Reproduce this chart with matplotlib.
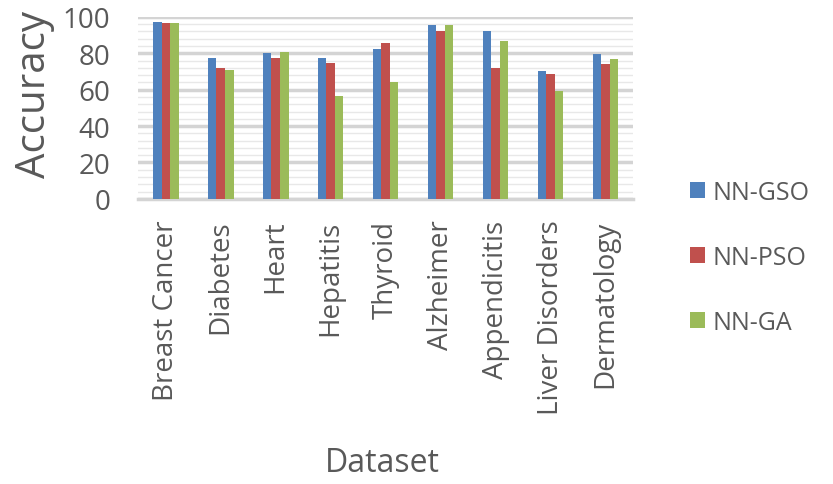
import matplotlib
matplotlib.use("Agg")
import matplotlib.pyplot as plt
import numpy as np

categories = ["Breast Cancer", "Diabetes", "Heart", "Hepatitis", "Thyroid",
              "Alzheimer", "Appendicitis", "Liver Disorders", "Dermatology"]
nn_gso = [97.0, 77.3, 80.3, 77.3, 82.4, 95.4, 92.2, 70.4, 79.9]
nn_pso = [96.4, 72.2, 77.2, 74.6, 85.7, 92.5, 72.0, 68.9, 74.1]
nn_ga = [96.4, 71.1, 80.8, 56.7, 64.2, 95.4, 86.7, 59.4, 77.0]
series_names = ["NN-GSO", "NN-PSO", "NN-GA"]
colors = ["#4f81bd", "#c0504d", "#9bbb59"]
yticks = [0, 20, 40, 60, 80, 100]

plt.rcParams['font.family'] = ['Open Sans', 'DejaVu Sans']
txt = "#595959"

fig = plt.figure(figsize=(8.33, 4.85), dpi=100)
ax = fig.add_axes([0.166, 0.588, 0.594, 0.375])

x = np.arange(len(categories))
w = 0.155
for i, (vals, name, c) in enumerate(zip([nn_gso, nn_pso, nn_ga], series_names, colors)):
    ax.bar(x + (i - 1) * w, vals, width=w, color=c, label=name, zorder=3)

ax.set_xlim(-0.5, len(categories) - 0.5)
ax.set_ylim(0, 100)
ax.set_yticks(yticks)
ax.set_yticks(np.arange(0, 101, 4), minor=True)
ax.grid(axis='y', which='major', color='#d4d4d4', lw=2.5, zorder=0)
ax.grid(axis='y', which='minor', color='#e8e8e8', lw=1.0, zorder=0)
for s in ['top', 'right', 'left']:
    ax.spines[s].set_visible(False)
ax.spines['bottom'].set_color('#d4d4d4')
ax.spines['bottom'].set_linewidth(2.5)
ax.tick_params(axis='both', which='both', length=0, colors=txt)
ax.tick_params(axis='y', labelsize=20, pad=20)
ax.set_xticks(x)
ax.set_xticklabels(categories, rotation=90, fontsize=20, color=txt)
ax.tick_params(axis='x', pad=15)
fig.text(0.042, 0.806, "Accuracy", fontsize=29, color=txt, rotation=90,
         ha='center', va='center')
fig.text(0.459, 0.045, "Dataset", fontsize=23, color=txt, ha='center', va='center')

leg = ax.legend(loc='center left', bbox_to_anchor=(1.09, -0.32), frameon=False,
                fontsize=18, labelspacing=1.6, handlelength=0.6, handleheight=0.6,
                handletextpad=0.3, labelcolor=txt, borderpad=0)

fig.savefig("out.png", dpi=100, facecolor='white')
